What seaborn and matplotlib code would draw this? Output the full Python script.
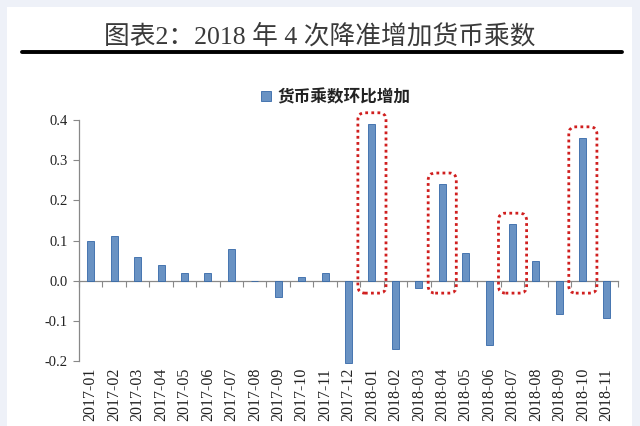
import matplotlib
matplotlib.use("Agg")
import matplotlib.pyplot as plt
from matplotlib.patches import FancyBboxPatch, Rectangle
from matplotlib.lines import Line2D
import seaborn as sns
import pandas as pd

months = ["2017-01", "2017-02", "2017-03", "2017-04", "2017-05", "2017-06",
          "2017-07", "2017-08", "2017-09", "2017-10", "2017-11", "2017-12",
          "2018-01", "2018-02", "2018-03", "2018-04", "2018-05", "2018-06",
          "2018-07", "2018-08", "2018-09", "2018-10", "2018-11"]
values = [0.10, 0.11, 0.06, 0.04, 0.02, 0.02, 0.08, 0.0, -0.04, 0.01, 0.02,
          -0.205, 0.39, -0.17, -0.018, 0.24, 0.07, -0.16, 0.14, 0.05,
          -0.083, 0.355, -0.093]
highlight = ["2018-01", "2018-04", "2018-07", "2018-10"]
series_name = "货币乘数环比增加"
title = "图表2：2018 年 4 次降准增加货币乘数"
yticks = [-0.2, -0.1, 0.0, 0.1, 0.2, 0.3, 0.4]

df = pd.DataFrame({"month": months, "value": values, "series": series_name})

sns.set_theme(style="white")
plt.rcParams["font.family"] = ["Liberation Serif", "Noto Sans CJK SC", "DejaVu Sans"]

fig = plt.figure(figsize=(6.4, 4.26), dpi=100)
fig.patch.set_facecolor("#eef1f8")
fig.add_artist(Rectangle((7 / 640, 0), (632 - 7) / 640, 1 - 7 / 426,
                         transform=fig.transFigure, facecolor="white",
                         edgecolor="none", zorder=-10))

ax = fig.add_axes([79 / 640, 1 - 361 / 426, (618 - 79) / 640, (361 - 120) / 426])
ax.set_facecolor("none")

sns.barplot(data=df, x="month", y="value", hue="series", ax=ax,
            palette=["#5a91d2"], width=0.3, edgecolor="#3568a8", linewidth=0.6,
            legend=True)
for p in ax.patches:
    p.set_clip_on(False)

ax.set_ylim(-0.2, 0.4)
ax.set_xlim(-0.5, len(months) - 0.5)
ax.set_yticks(yticks)
ax.set_yticklabels([f"{t:.1f}" for t in yticks], fontsize=10.5, color="#222222")
ax.set_xticks(range(len(months)))
ax.set_xticklabels(months, rotation=90, fontsize=11.5, color="#222222")
ax.tick_params(axis="x", length=0, pad=5)
ax.tick_params(axis="y", direction="out", length=4, width=0.8, color="#888888",
               left=True, pad=4)
ax.set_xlabel("")
ax.set_ylabel("")
for s in ["top", "right", "bottom"]:
    ax.spines[s].set_visible(False)
ax.spines["left"].set_color("#888888")
ax.spines["left"].set_linewidth(0.9)

# zero axis line with boundary ticks
zero_frac = (0 - (-0.2)) / (0.4 - (-0.2))
sec = ax.secondary_xaxis(zero_frac)
sec.set_xticks([i + 0.5 for i in range(len(months) - 1)] + [-0.5, len(months) - 0.5])
sec.set_xticklabels([])
sec.tick_params(direction="out", length=4, width=0.8, color="#888888")
sec.spines["bottom"].set_color("#888888")
sec.spines["bottom"].set_linewidth(0.9)
for s in ["top", "left", "right"]:
    sec.spines[s].set_visible(False)

# red dotted highlight boxes
for m in highlight:
    i = months.index(m)
    v = values[i]
    x0, x1 = i - 0.6, i + 0.6
    y0, y1 = -0.031, v + 0.028
    box = FancyBboxPatch((x0, y0), x1 - x0, y1 - y0,
                         boxstyle="round,pad=0,rounding_size=0.3",
                         mutation_aspect=0.06,
                         facecolor="none", edgecolor="#d01f1f",
                         linewidth=2.0, linestyle=(0, (1, 1.2)), zorder=5,
                         clip_on=False)
    ax.add_patch(box)

leg = ax.legend(loc="center", bbox_to_anchor=(336 / 640, 1 - 97 / 426),
                bbox_transform=fig.transFigure, frameon=False,
                handlelength=0.6, handleheight=0.6, handletextpad=0.4,
                prop={"family": ["Noto Sans CJK SC"], "weight": "bold", "size": 12})
for t in leg.get_texts():
    t.set_color("#222222")

fig.text(0.5, 1 - 36 / 426, title, ha="center", va="center", fontsize=18.5,
         color="#3a3a3a", family=["Liberation Serif", "Noto Sans CJK SC"])
fig.add_artist(Line2D([22 / 640, 622 / 640], [1 - 52 / 426, 1 - 52 / 426],
                      transform=fig.transFigure, color="black", linewidth=2.8))

fig.savefig("out.png", dpi=100)
